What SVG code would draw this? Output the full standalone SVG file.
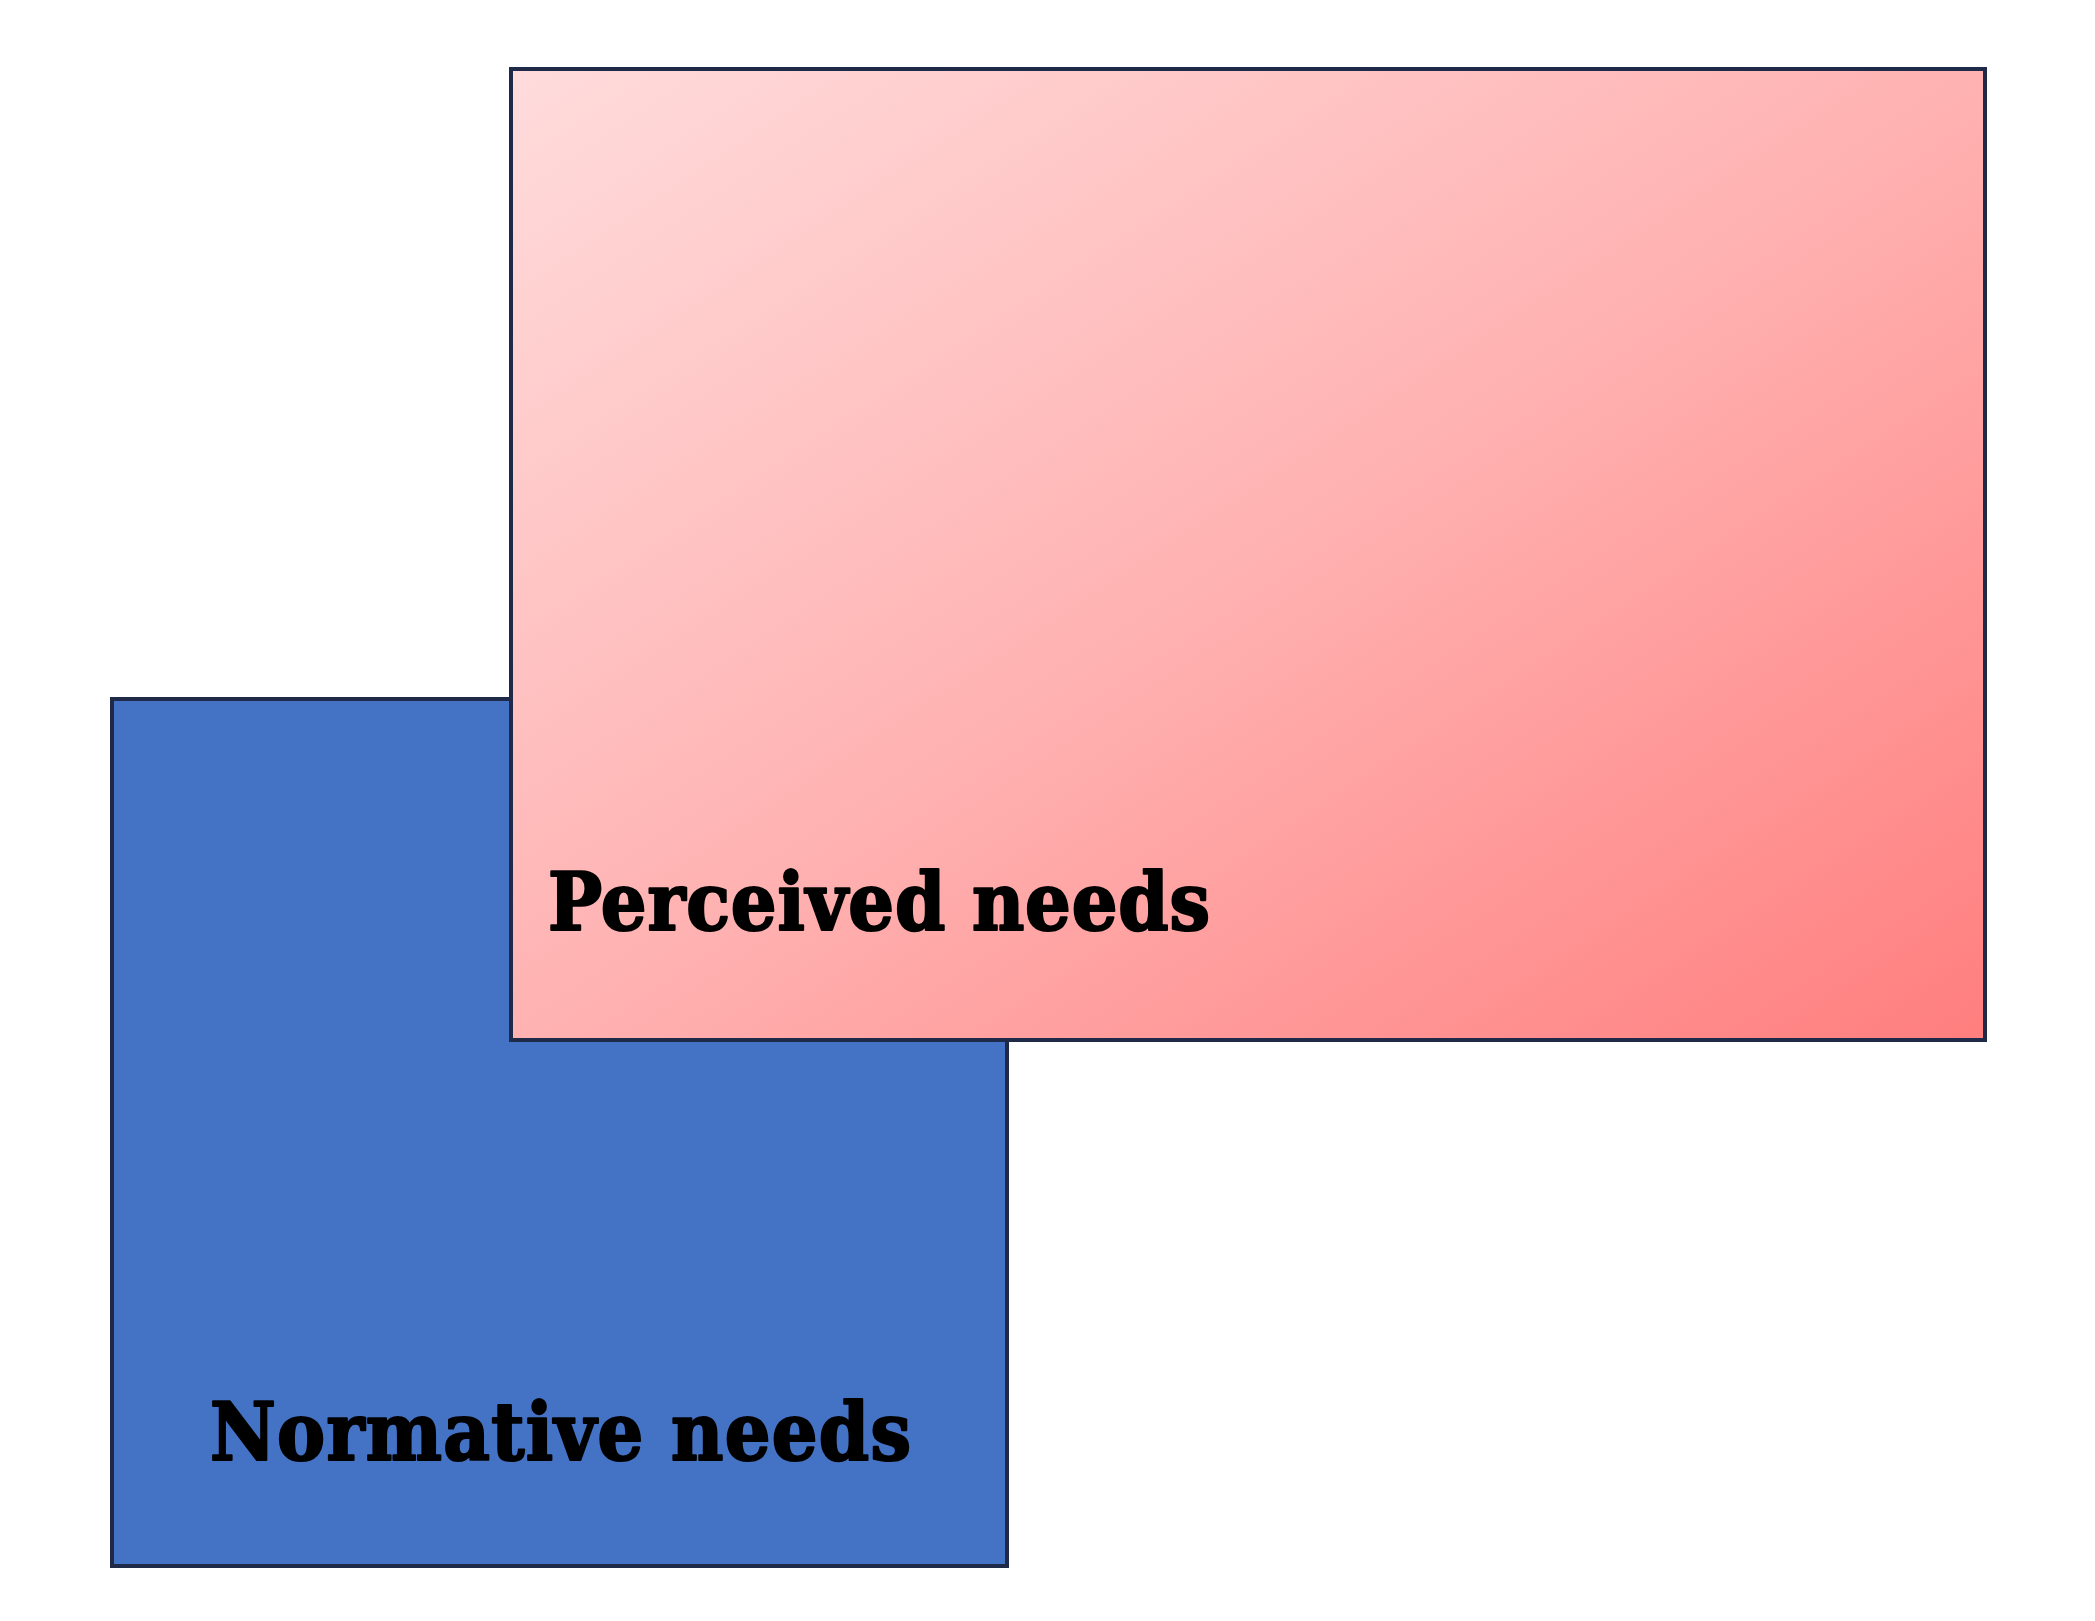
<svg xmlns="http://www.w3.org/2000/svg" width="2095" height="1621" viewBox="0 0 2095 1621">
  <defs>
    <linearGradient id="pinkGrad" x1="0" y1="0" x2="1" y2="1">
      <stop offset="0" stop-color="#FFDCDC"/>
      <stop offset="0.5" stop-color="#FFB2B2"/>
      <stop offset="1" stop-color="#FF7E7E"/>
    </linearGradient>
    <style>
      .box { stroke: #1F2A48; stroke-width: 4; }
      .label { font-family: "DejaVu Serif Condensed", "DejaVu Serif", "Liberation Serif", serif; font-weight: bold; font-size: 80px; fill: #000000; stroke: #000000; stroke-width: 2.2; stroke-linejoin: round; }
    </style>
  </defs>
  <rect x="0" y="0" width="2095" height="1621" fill="#FFFFFF"/>
  <g id="normative">
    <rect class="box" x="112" y="699" width="895" height="867" fill="#4472C4"/>
    <text class="label" x="210" y="1460" textLength="701" lengthAdjust="spacing">Normative needs</text>
  </g>
  <g id="perceived">
    <rect class="box" x="511" y="69" width="1474" height="971" fill="url(#pinkGrad)"/>
    <text class="label" x="548" y="930" textLength="662" lengthAdjust="spacing">Perceived needs</text>
  </g>
  <g id="connectors"></g>
</svg>
